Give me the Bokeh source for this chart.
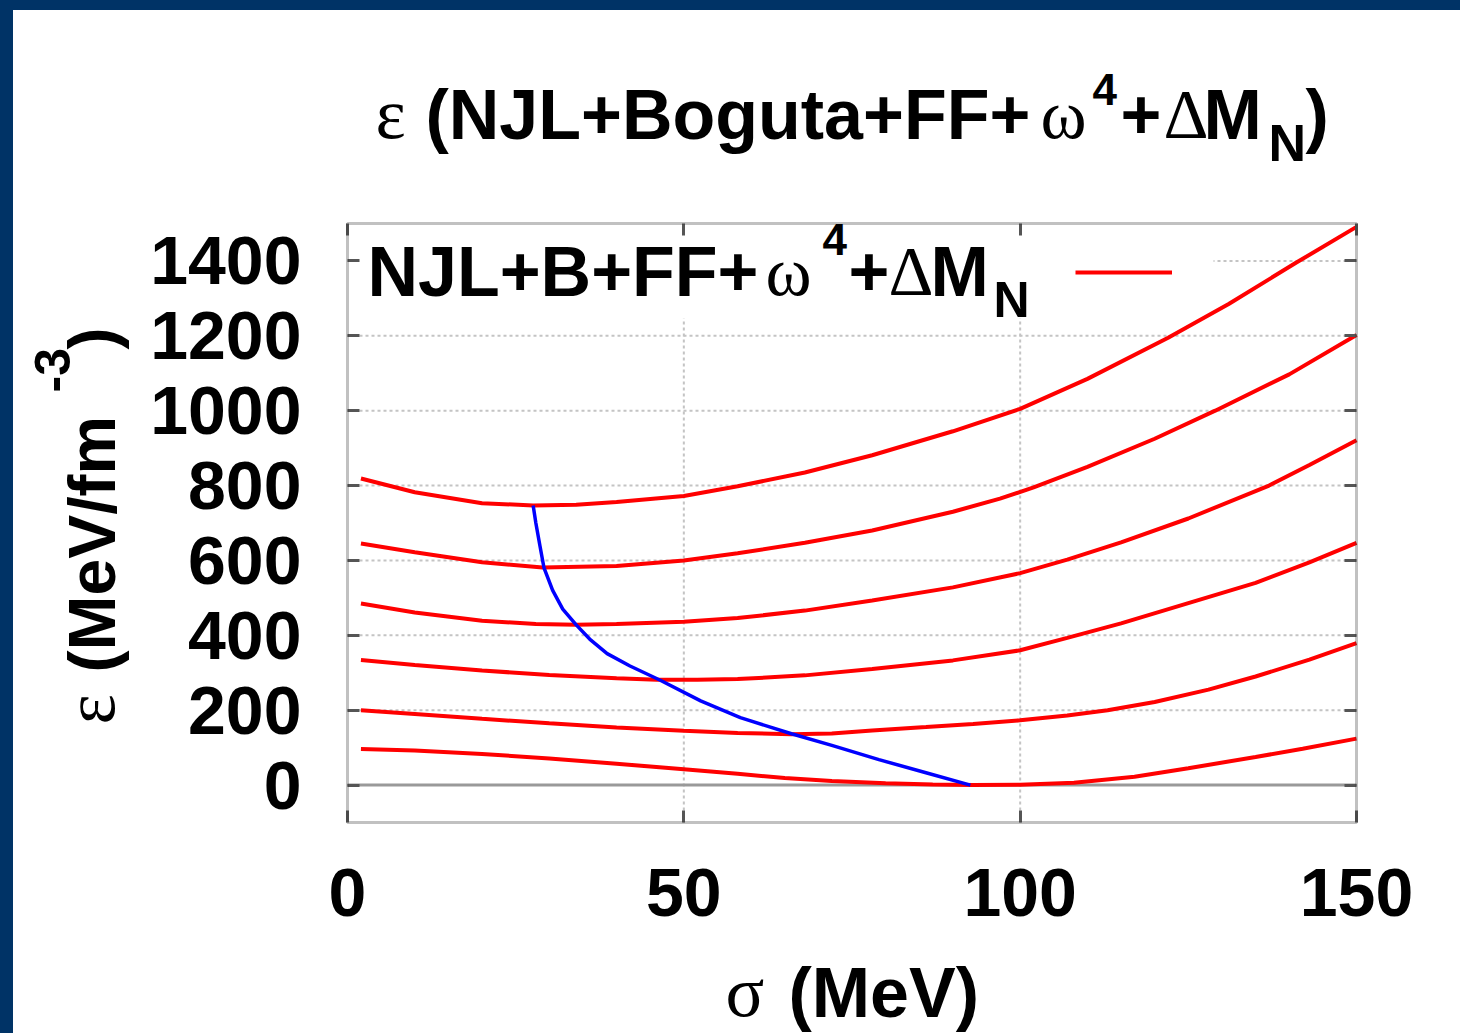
import numpy as np
from bokeh.plotting import figure
from bokeh.models import (Range1d, FixedTicker, LinearAxis, Label, Legend, LegendItem,
                          BoxAnnotation, Spacer)
from bokeh.layouts import column, row
from bokeh.embed import file_html
from bokeh.resources import INLINE

# ---------------- data ----------------
# epsilon(sigma) curves for increasing density (bottom to top)
sigma_1 = [2, 10, 20, 30, 40, 50, 58, 65, 72, 80, 87, 93, 100, 108, 117, 125, 135, 142, 150]
eps_1 = [96, 92, 83, 71, 57, 42, 30, 19, 11, 5, 1.5, 0, 1, 6, 22, 45, 75, 97, 124]

sigma_2 = [2, 10, 20, 30, 40, 50, 58, 66, 72, 78, 86, 93, 100, 107, 113, 120, 128, 135, 143, 150]
eps_2 = [200, 190, 177, 165, 154, 145, 139, 136, 138, 146, 155, 163, 173, 186, 200, 222, 255, 290, 335, 379]

sigma_3 = [2, 10, 20, 30, 40, 46, 52, 58, 68, 78, 90, 100, 107, 115, 125, 135, 143, 150]
eps_3 = [334, 321, 306, 294, 285, 281, 281, 283, 293, 310, 333, 360, 393, 432, 486, 540, 595, 647]

sigma_4 = [2, 10, 20, 28, 34, 40, 50, 58, 68, 78, 90, 100, 107, 115, 125, 137, 143, 150]
eps_4 = [485, 461, 439, 430, 428, 430, 436, 446, 466, 493, 528, 566, 602, 648, 712, 800, 855, 921]

sigma_5 = [2, 10, 20, 29, 40, 50, 58, 68, 78, 90, 97, 102, 110, 120, 129, 140, 150]
eps_5 = [645, 622, 595, 581, 585, 600, 619, 647, 680, 730, 765, 795, 850, 925, 1000, 1097, 1202]

sigma_6 = [2, 10, 20, 27.6, 34, 40, 50, 58, 68, 78, 90, 100, 110, 122, 131, 141, 150]
eps_6 = [819, 782, 753, 747, 749, 756, 772, 798, 835, 881, 945, 1005, 1085, 1195, 1285, 1395, 1491]

# locus of the minima (blue)
sigma_min = [27.6, 28.0, 28.6, 29.2, 30.5, 32, 34, 36, 38.6, 42, 46.5, 52.5, 58.4, 66, 72, 79, 86, 92.6]
eps_min = [747, 700, 640, 581, 520, 470, 428, 390, 351, 318, 280, 225, 180, 137, 106, 68, 33, 0]

x_ticks = [0, 50, 100, 150]
y_ticks = [0, 200, 400, 600, 800, 1000, 1200, 1400]
x_grid = [50, 100]
X_MIN, X_MAX = 0, 150
Y_MIN, Y_MAX = -100, 1500

curves = [(sigma_1, eps_1), (sigma_2, eps_2), (sigma_3, eps_3),
          (sigma_4, eps_4), (sigma_5, eps_5), (sigma_6, eps_6)]

# ---------------- layout geometry (figure pixels) ----------------
W, H = 1447, 1023                 # figure size; window offset (13, 10) by the blue bars
OFF_X, OFF_Y = 13, 10
BOX_L, BOX_R, BOX_T, BOX_B = 334, 1343, 213, 812   # plotting box inside the figure

kx = (BOX_R - BOX_L) / (X_MAX - X_MIN)
ky = (BOX_B - BOX_T) / (Y_MAX - Y_MIN)
x_range = Range1d(X_MIN - BOX_L / kx, X_MAX + (W - BOX_R) / kx)
y_range = Range1d(Y_MIN - (H - BOX_B) / ky, Y_MAX + BOX_T / ky)

SANS = "Liberation Sans"
SERIF = "Liberation Serif"

p = figure(width=W, height=H, x_range=x_range, y_range=y_range,
           output_backend="svg", toolbar_location=None, title=None,
           x_axis_location=None, y_axis_location=None,
           min_border=0, background_fill_color="white", border_fill_color="white",
           outline_line_color=None)
p.grid.visible = False

# axes fixed at the edges of the plotting box (ticks pointing inwards)
def make_axis(ticks, loc, show_labels, standoff):
    ax = LinearAxis(ticker=FixedTicker(ticks=ticks), fixed_location=loc,
                    axis_line_color=None, major_tick_in=12, major_tick_out=0,
                    major_tick_line_color="#555555", major_tick_line_width=3,
                    minor_tick_line_color=None,
                    major_label_text_font=SANS, major_label_text_font_style="bold",
                    major_label_text_font_size="68px",
                    major_label_text_color="black" if show_labels else None,
                    major_label_standoff=standoff)
    return ax

p.add_layout(make_axis(x_ticks, Y_MIN, True, 46), "below")
p.add_layout(make_axis(y_ticks, X_MIN, True, 46), "left")
p.add_layout(make_axis(x_ticks, Y_MAX, False, 0), "above")
p.add_layout(make_axis(y_ticks, X_MAX, False, 0), "right")

# dotted grid inside the box
grid_style = dict(line_color="#c4c4c4", line_width=2, line_dash="3 3", level="underlay")
p.segment(x0=x_grid, y0=[Y_MIN] * len(x_grid), x1=x_grid, y1=[Y_MAX] * len(x_grid), **grid_style)
p.segment(x0=[X_MIN] * len(y_ticks), y0=y_ticks, x1=[X_MAX] * len(y_ticks), y1=y_ticks, **grid_style)

# opaque key area (covers the grid under the key)
key_box = BoxAnnotation(left=BOX_L, right=1200, top=H - BOX_T, bottom=H - 308,
                        left_units="screen", right_units="screen",
                        top_units="screen", bottom_units="screen",
                        fill_color="white", fill_alpha=1, line_color=None, level="underlay")
p.renderers.append(key_box)

# zero axis
p.segment(x0=[X_MIN], y0=[0], x1=[X_MAX], y1=[0], line_color="#999999", line_width=3,
          level="underlay")

red_renderers = []
for s, e in curves:
    red_renderers.append(p.line(s, e, line_color="#ff0000", line_width=4))
p.line(sigma_min, eps_min, line_color="#0000ff", line_width=3.5)

# frame of the plotting box
p.add_layout(BoxAnnotation(left=X_MIN, right=X_MAX, bottom=Y_MIN, top=Y_MAX,
                           fill_alpha=0, line_color="#333333", line_width=3))

# legend key (line sample to the right of the text)
legend = Legend(items=[LegendItem(label=" ", renderers=[red_renderers[0]])],
                location=(1075 - OFF_X, H - (282 - OFF_Y)),
                glyph_width=97, glyph_height=20, padding=0, margin=0, spacing=0,
                label_standoff=0, label_width=0, label_text_font_size="10px",
                label_text_color=None,
                border_line_color=None, background_fill_alpha=0)
p.add_layout(legend)

BASE_SHIFT = 0.37   # baseline correction (fraction of font size)


def lab(text, X, Y, size, font=SANS, style="bold", angle=0.0):
    """X, Y: window pixels of the text's left end on its baseline."""
    if angle:
        X = X - BASE_SHIFT * size
    else:
        Y = Y - BASE_SHIFT * size
    p.add_layout(Label(x=X - OFF_X, y=H - (Y - OFF_Y),
                       x_units="screen", y_units="screen", text=text,
                       text_font=font, text_font_style=style,
                       text_font_size=f"{size}px", text_color="black",
                       text_align="left", text_baseline="alphabetic",
                       angle=angle, angle_units="rad"))


# title
lab("ε", 375, 140, 72, SERIF, "normal")
lab("(NJL+Boguta+FF+", 425, 140, 70)
lab("ω", 1040, 140, 70, SERIF, "normal")
lab("4", 1092, 105, 44)
lab("+", 1120, 140, 70)
lab("Δ", 1163, 140, 70, SERIF, "normal")
lab("M", 1203, 140, 70)
lab("N", 1268, 162, 52)
lab(")", 1305, 140, 70)

# key text
lab("NJL+B+FF+", 367, 297, 70)
lab("ω", 765, 297, 70, SERIF, "normal")
lab("4", 822, 255, 44)
lab("+", 848, 297, 70)
lab("Δ", 888, 297, 70, SERIF, "normal")
lab("M", 930, 297, 70)
lab("N", 993, 318, 50)

# x axis label
lab("σ", 725, 1018, 72, SERIF, "normal")
lab("(MeV)", 788, 1018, 70)

# y axis label (rotated)
R = np.pi / 2
lab("ε", 116, 724, 72, SERIF, "normal", R)
lab("(MeV/fm", 116, 672, 66, SANS, "bold", R)
lab("-3", 70, 392, 50, SANS, "bold", R)
lab(")", 116, 349, 66, SANS, "bold", R)

BLUE = "#003366"
top_bar = Spacer(width=W + OFF_X, height=OFF_Y, styles={"background-color": BLUE})
left_bar = Spacer(width=OFF_X, height=H, styles={"background-color": BLUE})
layout = column(top_bar, row(left_bar, p))

open("out.html", "w").write(file_html(layout, INLINE))
